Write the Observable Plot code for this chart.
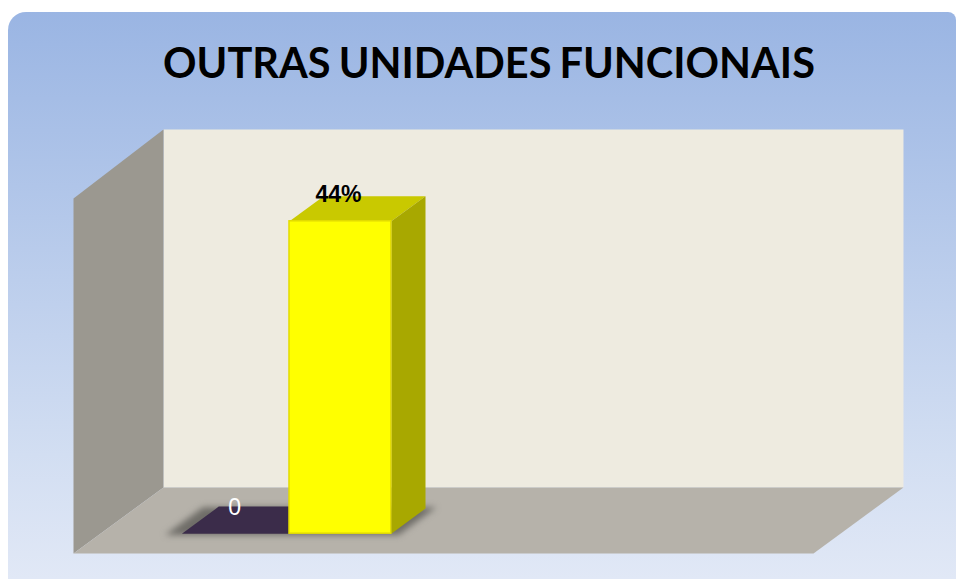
<!DOCTYPE html>
<html>
<head>
<meta charset="utf-8">
<script src="https://cdn.jsdelivr.net/npm/d3@7"></script>
<script src="https://cdn.jsdelivr.net/npm/@observablehq/plot@0.6"></script>
<style>
  html, body { margin: 0; padding: 0; background: #fff; }
  #frame { position: absolute; left: 8px; top: 12px; width: 948px; height: 567px;
    border-radius: 18px 8px 0 0;
    background: linear-gradient(180deg, #9ab5e3 0%, #d2def2 78%, #e1e8f6 100%); }
  #chart { position: absolute; left: 0; top: 0; width: 957px; height: 579px; }
  #title { position: absolute; left: 163px; top: 35px; width: 652px; margin: 0; text-align: center;
    font: 700 41.5px/54px Lato, sans-serif; word-spacing: -2px; color: #000; white-space: nowrap; }
</style>
</head>
<body>
<div id="frame"></div>
<div id="chart"></div>
<h1 id="title">OUTRAS UNIDADES FUNCIONAIS</h1>
<script>
// Chart values
const seriesNames = ["Série 1", "Série 2"];
const seriesValues = [0, 44];
const valueLabels = ["0", "44%"];
const seriesColors = ["#3b2c4a", "#ffff00"];
const axisMax = 50;

// Oblique projection of the 3D box: depth 0 is the front edge, depth 1 the back wall.
const depthX = 0.1216, depthY = 9.3;
const project = (x, value, depth) => ({x: x + depth * depthX, y: value + depth * depthY});
const quad = (...corners) => corners.map(([x, v, d]) => project(x, v, d));
const face = (corners, fill, extra = {}) =>
  Plot.line(corners, {x: "x", y: "y", fill, stroke: "none", ...extra});

// Bar layout along the category axis (fractions of the axis width)
const slotEdges = [0.117, 0.2554, 0.393];
const barFront = 0.3, barBack = 0.68;
const rows = seriesNames.map((name, i) => ({
  name, value: seriesValues[i], label: valueLabels[i], color: seriesColors[i],
  x1: slotEdges[i], x2: slotEdges[i + 1]
}));
const flat = rows[0], tall = rows[1];

const wallTop = axisMax + 0.42;
const backWall = [[0, wallTop, 1], [1, wallTop, 1], [1, 0, 1], [0, 0, 1]];
const leftWall = [[0, axisMax, 0], [0, wallTop, 1], [0, 0, 1], [0, 0, 0]];
const floor = [[0, 0, 1], [1, 0, 1], [1, 0, 0], [0, 0, 0]];
const shadow = [[0.09, 0, 0.28], [0.09, 0, 0.70], [0.405, 0, 0.70], [0.405, 0, 0.28]];
const flatBase = [[flat.x1 - 0.007, 0, barFront], [flat.x1 - 0.007, 0, barBack + 0.03], [flat.x2, 0, barBack + 0.03], [flat.x2, 0, barFront]];
const barTop = [[tall.x1, tall.value, barFront], [tall.x1, tall.value, barBack], [tall.x2, tall.value, barBack], [tall.x2, tall.value, barFront]];
const barSide = [[tall.x2, tall.value, barFront], [tall.x2, tall.value, barBack], [tall.x2, 0, barBack], [tall.x2, 0, barFront]];
const barFace = quad([tall.x1, tall.value, barFront], [tall.x2, tall.value, barFront], [tall.x2, 0, barFront], [tall.x1, 0, barFront]);

const chart = Plot.plot({
  width: 957, height: 579,
  marginLeft: 73, marginRight: 144, marginTop: 198, marginBottom: 26,
  x: {domain: [0, 1], axis: null},
  y: {domain: [0, axisMax], axis: null},
  style: {background: "transparent", overflow: "visible"},
  marks: [
    face(quad(...backWall), "#eeebe0"),
    face(quad(...leftWall), "#9b9890"),
    face(quad(...floor), "#b6b2aa"),
    face(quad(...shadow), "#6f6d68", {imageFilter: "blur(3px)"}),
    face(quad(...flatBase), flat.color),
    face(quad(...barTop), "#c9c900"),
    face(quad(...barSide), "#a8a800"),
    Plot.rect([barFace], {
      x1: d => d[0].x, x2: d => d[1].x, y1: d => d[2].y, y2: d => d[0].y,
      fill: tall.color, stroke: "#e3dc00", strokeWidth: 1.5
    }),
    Plot.text([project((tall.x1 + tall.x2) / 2, tall.value, 0.278)], {
      x: "x", y: "y", text: () => tall.label, dy: -28,
      fontFamily: "Liberation Sans", fontSize: 23, fontWeight: 700, fill: "#000"
    }),
    Plot.text([project((flat.x1 + flat.x2) / 2, flat.value, 0.26)], {
      x: "x", y: "y", text: () => flat.label, dy: -29,
      fontFamily: "Liberation Sans", fontSize: 23, fill: "#fff"
    })
  ]
});
document.getElementById("chart").appendChild(chart);
</script>
</body>
</html>
